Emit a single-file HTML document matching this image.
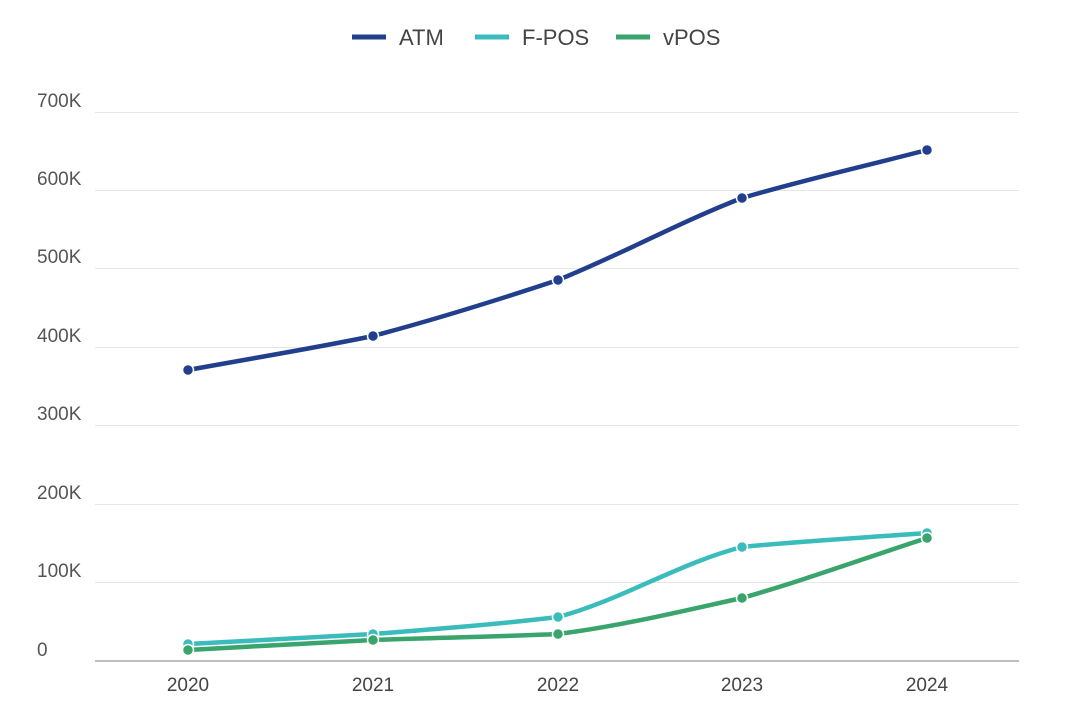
<!DOCTYPE html>
<html><head><meta charset="utf-8"><style>
html,body{margin:0;padding:0;background:#fff;}
svg{display:block;font-family:"Liberation Sans",Arial,sans-serif;}
</style></head><body>
<svg id="c" width="1079" height="717" viewBox="0 0 1079 717">
<g stroke="#e6e6e6" stroke-width="1">
<line x1="95" x2="1019" y1="112.5" y2="112.5"/>
<line x1="95" x2="1019" y1="190.5" y2="190.5"/>
<line x1="95" x2="1019" y1="268.5" y2="268.5"/>
<line x1="95" x2="1019" y1="347.5" y2="347.5"/>
<line x1="95" x2="1019" y1="425.5" y2="425.5"/>
<line x1="95" x2="1019" y1="504.5" y2="504.5"/>
<line x1="95" x2="1019" y1="582.5" y2="582.5"/>
</g>
<line x1="95" x2="1019" y1="661" y2="661" stroke="#999" stroke-width="1.2"/>
<g fill="#555" font-size="19">
<text x="37" y="107">700K</text>
<text x="37" y="185">600K</text>
<text x="37" y="263">500K</text>
<text x="37" y="342">400K</text>
<text x="37" y="420">300K</text>
<text x="37" y="499">200K</text>
<text x="37" y="577">100K</text>
<text x="37" y="656">0</text>
</g>
<g fill="#444" font-size="19" text-anchor="middle">
<text x="188" y="691">2020</text>
<text x="373" y="691">2021</text>
<text x="558" y="691">2022</text>
<text x="742" y="691">2023</text>
<text x="927" y="691">2024</text>
</g>
<g font-size="22" fill="#444">
<line x1="352" x2="386" y1="37" y2="37" stroke="#213f8c" stroke-width="5"/>
<text x="399" y="45">ATM</text>
<line x1="475" x2="509" y1="37" y2="37" stroke="#3bbcbc" stroke-width="5"/>
<text x="522" y="45">F-POS</text>
<line x1="616" x2="650" y1="37" y2="37" stroke="#39a56c" stroke-width="5"/>
<text x="663" y="45">vPOS</text>
</g>
<g id="series"></g>
</svg>
<script>
var xs=[188,373,558,742,927];
var S=[["#39a56c",[650,640,634,598,538]],["#3bbcbc",[644,634,617,547,533]],["#213f8c",[370,336,280,198,150]]];
var order=[S[1],S[0],S[2]];
var g=document.getElementById('series'),h='';
function path(ys){var d='M'+xs[0]+','+ys[0];var n=xs.length,m=[];
for(var i=0;i<n;i++){var a=i>0?(ys[i]-ys[i-1])/(xs[i]-xs[i-1]):null,b=i<n-1?(ys[i+1]-ys[i])/(xs[i+1]-xs[i]):null;
var t;if(a===null)t=b;else if(b===null)t=a;else if(a*b<=0)t=0;else t=2/(1/a+1/b);m.push(t);}
for(var i=0;i<n-1;i++){var dx=(xs[i+1]-xs[i])/6,sl=(ys[i+1]-ys[i])/(xs[i+1]-xs[i]);
d+=' C'+(xs[i]+2*dx)+','+(ys[i]+(m[i]+sl)/2*2*dx)+' '+(xs[i+1]-2*dx)+','+(ys[i+1]-(m[i+1]+sl)/2*2*dx)+' '+xs[i+1]+','+ys[i+1];}
return d;}
order.forEach(function(s){h+='<path d="'+path(s[1])+'" fill="none" stroke="'+s[0]+'" stroke-width="4.5" stroke-linejoin="round"/>';
s[1].forEach(function(y,i){h+='<circle cx="'+xs[i]+'" cy="'+y+'" r="5.5" fill="'+s[0]+'" stroke="#fff" stroke-width="1.5"/>';});});
g.innerHTML=h;
</script>
</body></html>
